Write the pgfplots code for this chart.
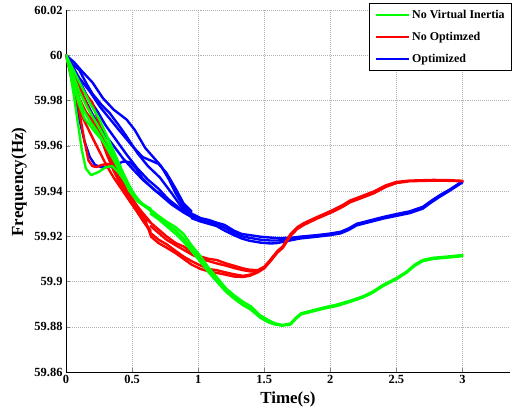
\documentclass[border=0pt]{standalone}
\usepackage{fontspec}
\setmainfont{Liberation Serif}
\usepackage{pgfplots}
\pgfplotsset{compat=1.18}

\begin{document}
\begin{tikzpicture}
\begin{axis}[
name=ax,
scale only axis,
width=444bp,height=362bp,
xmin=0,xmax=3.36,ymin=59.86,ymax=60.02,
axis lines*=left,
axis line style={line width=0.8pt},
tick align=inside,
major tick length=4bp,
xtick={0,0.5,1,1.5,2,2.5,3},
xticklabels={0,0.5,1,1.5,2,2.5,3},
ytick={59.86,59.88,59.9,59.92,59.94,59.96,59.98,60,60.02},
yticklabels={59.86,59.88,59.9,59.92,59.94,59.96,59.98,60,60.02},
/pgf/number format/assume math mode=true,
ticklabel style={font=\bfseries\fontsize{12.5}{13}\selectfont},
grid=major,
major grid style={gray!60,line width=0.5pt,dash pattern=on 1pt off 1pt},
xlabel={Time(s)},ylabel={Frequency(Hz)},
every axis x label/.style={at={(axis description cs:0.5,0)},yshift=-27bp,anchor=center,
  font=\bfseries\fontsize{17}{18}\selectfont},
every axis y label/.style={at={(axis description cs:0,0.5)},xshift=-47bp,yshift=9bp,rotate=90,anchor=center,
  font=\bfseries\fontsize{17}{18}\selectfont},
every axis plot/.append style={line width=2.4pt,line join=round,line cap=round},
legend style={at={(1,1)},anchor=north east,xshift=2bp,yshift=7bp,draw=black,line width=0.6pt,
  fill=white,font=\bfseries\fontsize{12}{12}\selectfont,row sep=8bp,inner sep=5bp,cells={anchor=west}},
legend image code/.code={\draw[#1,line width=2.4pt,line cap=butt] (0bp,0bp) -- (33bp,0bp);},
]
% --- Optimized (blue)
\addplot[blue,forget plot] coordinates {(0,60)(0.05,59.996)(0.1,59.9935)(0.15,59.988)(0.2,59.983)(0.27,59.978)(0.33,59.9745)(0.4,59.969)(0.46,59.964)(0.54,59.9568)(0.62,59.951)(0.71,59.946)(0.8,59.939)(0.89,59.9316)(0.95,59.929)};
\addplot[blue,forget plot] coordinates {(0,60)(0.06,59.997)(0.12,59.993)(0.2,59.988)(0.28,59.981)(0.36,59.976)(0.46,59.9715)(0.52,59.967)(0.6,59.959)(0.66,59.955)(0.72,59.951)(0.78,59.945)(0.83,59.939)(0.89,59.933)(0.95,59.930)};
\addplot[blue,forget plot] coordinates {(0,60)(0.05,59.995)(0.1,59.990)(0.18,59.984)(0.26,59.977)(0.33,59.972)(0.4,59.967)(0.5,59.960)(0.58,59.955)(0.64,59.9535)(0.7,59.952)(0.76,59.948)(0.83,59.941)(0.89,59.9345)(0.95,59.931)};
\addplot[blue,forget plot] coordinates {(0,60)(0.05,59.995)(0.1,59.989)(0.16,59.982)(0.24,59.975)(0.3,59.969)(0.38,59.9625)(0.46,59.956)(0.54,59.950)(0.62,59.945)(0.7,59.941)(0.78,59.936)(0.86,59.9325)(0.95,59.9295)};
\addplot[blue,forget plot] coordinates {(0,60)(0.03,59.994)(0.06,59.984)(0.1,59.972)(0.14,59.962)(0.18,59.955)(0.22,59.9515)(0.27,59.9505)(0.32,59.9505)(0.38,59.9515)(0.43,59.953)(0.48,59.9528)(0.53,59.950)(0.58,59.9455)(0.65,59.9415)(0.72,59.938)(0.8,59.934)(0.89,59.9305)(0.95,59.9285)};
\addplot[blue,forget plot] coordinates {(0,60)(0.04,59.996)(0.08,59.99)(0.13,59.982)(0.2,59.974)(0.28,59.966)(0.36,59.960)(0.43,59.9545)(0.5,59.950)(0.58,59.945)(0.68,59.940)(0.76,59.937)(0.86,59.932)(0.95,59.929)};
\addplot[blue,forget plot] coordinates {(0.95,59.930)(1.02,59.928)(1.08,59.9272)(1.14,59.926)(1.2,59.925)(1.27,59.9225)(1.33,59.921)(1.39,59.9205)(1.47,59.9198)(1.55,59.9194)(1.6,59.9192)(1.7,59.9193)(1.77,59.9198)(1.9,59.9205)(2.0,59.9212)(2.08,59.922)(2.14,59.9235)(2.2,59.9255)(2.3,59.927)(2.4,59.9285)(2.5,59.9298)(2.6,59.931)(2.7,59.933)(2.76,59.9355)(2.83,59.9382)(2.9,59.9405)(3.0,59.9443)};
\addplot[blue,forget plot] coordinates {(0.95,59.929)(1.02,59.9272)(1.08,59.9263)(1.14,59.9252)(1.2,59.9238)(1.27,59.9215)(1.33,59.92)(1.39,59.9193)(1.47,59.9185)(1.55,59.9181)(1.6,59.9181)(1.7,59.9188)(1.77,59.9194)(1.9,59.9202)(2.0,59.9208)(2.08,59.9217)(2.14,59.9232)(2.2,59.9252)(2.3,59.9267)(2.4,59.9282)(2.5,59.9294)(2.6,59.9306)(2.7,59.9326)(2.76,59.9352)(2.83,59.9379)(2.9,59.9403)(3.0,59.9441)};
\addplot[blue,forget plot] coordinates {(0.95,59.928)(1.02,59.9265)(1.08,59.9255)(1.14,59.9245)(1.2,59.9225)(1.27,59.9205)(1.33,59.919)(1.39,59.918)(1.47,59.9172)(1.55,59.9168)(1.6,59.917)(1.7,59.9182)(1.77,59.919)(1.9,59.9198)(2.0,59.9205)(2.08,59.9213)(2.14,59.9228)(2.2,59.9248)(2.3,59.9263)(2.4,59.9278)(2.5,59.929)(2.6,59.9302)(2.7,59.9322)(2.76,59.9348)(2.83,59.9375)(2.9,59.94)(3.0,59.9438)};
% --- No Optimzed (red)
\addplot[red,forget plot] coordinates {(0,60)(0.04,59.992)(0.08,59.982)(0.11,59.972)(0.14,59.962)(0.17,59.9535)(0.2,59.951)(0.23,59.9506)(0.27,59.9515)(0.31,59.952)(0.35,59.951)(0.4,59.946)(0.46,59.940)(0.51,59.9355)(0.57,59.931)(0.64,59.9262)};
\addplot[red,forget plot] coordinates {(0,60)(0.05,59.991)(0.1,59.981)(0.15,59.975)(0.2,59.971)(0.26,59.964)(0.31,59.956)(0.36,59.949)(0.42,59.942)(0.48,59.936)(0.53,59.932)(0.58,59.927)(0.64,59.922)};
\addplot[red,forget plot] coordinates {(0,60)(0.06,59.992)(0.12,59.985)(0.2,59.979)(0.26,59.968)(0.32,59.958)(0.38,59.950)(0.44,59.943)(0.5,59.937)(0.56,59.931)(0.6,59.927)(0.64,59.9205)};
\addplot[red,forget plot] coordinates {(0,60)(0.05,59.993)(0.1,59.986)(0.16,59.978)(0.22,59.970)(0.28,59.962)(0.34,59.954)(0.4,59.946)(0.46,59.939)(0.52,59.933)(0.58,59.929)(0.64,59.926)};
\addplot[red,forget plot] coordinates {(0,60)(0.04,59.99)(0.08,59.980)(0.13,59.972)(0.18,59.966)(0.24,59.959)(0.3,59.952)(0.36,59.946)(0.43,59.940)(0.5,59.934)(0.57,59.928)(0.64,59.9225)};
\addplot[red,forget plot] coordinates {(0.64,59.926)(0.7,59.923)(0.76,59.920)(0.83,59.917)(0.89,59.9155)(0.95,59.913)(1.02,59.911)(1.08,59.910)(1.14,59.9095)(1.21,59.908)(1.27,59.907)(1.34,59.9058)(1.39,59.9052)(1.45,59.905)(1.5,59.9065)(1.545,59.9095)(1.6,59.9135)(1.64,59.9155)(1.7,59.921)(1.75,59.924)(1.8,59.9258)(1.9,59.9285)(2.02,59.9316)(2.1,59.934)(2.15,59.9358)(2.25,59.938)(2.33,59.9398)(2.42,59.9425)(2.5,59.944)(2.6,59.9446)(2.78,59.9449)(2.9,59.9448)(3.0,59.9445)};
\addplot[red,forget plot] coordinates {(0.64,59.9245)(0.7,59.9215)(0.76,59.9185)(0.83,59.916)(0.89,59.914)(0.95,59.912)(1.02,59.910)(1.08,59.909)(1.14,59.908)(1.21,59.907)(1.27,59.906)(1.34,59.905)(1.39,59.9045)(1.45,59.9045)};
\addplot[red,forget plot] coordinates {(0.64,59.9214)(0.7,59.9185)(0.76,59.9165)(0.83,59.9135)(0.89,59.911)(0.95,59.909)(1.02,59.907)(1.08,59.9055)(1.14,59.905)(1.21,59.904)(1.27,59.9032)(1.34,59.9025)(1.39,59.903)(1.45,59.9042)};
\addplot[red,forget plot] coordinates {(0.64,59.920)(0.7,59.917)(0.76,59.915)(0.83,59.9125)(0.89,59.910)(0.95,59.9075)(1.02,59.9055)(1.08,59.9045)(1.14,59.9038)(1.21,59.903)(1.27,59.9022)(1.34,59.902)(1.39,59.9025)(1.45,59.904)(1.5,59.9058)(1.545,59.9088)(1.6,59.9128)(1.64,59.9148)(1.7,59.9202)(1.75,59.9232)(1.8,59.925)(1.9,59.9278)(2.02,59.9308)(2.1,59.9332)(2.15,59.935)(2.25,59.9372)(2.33,59.939)(2.42,59.9418)(2.5,59.9435)(2.6,59.9443)(2.78,59.9446)(2.9,59.9445)(3.0,59.9443)};
% --- No Virtual Inertia (green)
\addplot[green,forget plot] coordinates {(0,60)(0.03,59.993)(0.06,59.982)(0.09,59.970)(0.12,59.958)(0.15,59.950)(0.19,59.947)(0.25,59.9485)(0.30,59.9505)(0.35,59.951)(0.40,59.948)(0.46,59.943)(0.52,59.937)(0.58,59.934)(0.64,59.9318)};
\addplot[green,forget plot] coordinates {(0,60)(0.03,59.994)(0.06,59.986)(0.1,59.978)(0.14,59.972)(0.18,59.969)(0.22,59.966)(0.28,59.962)(0.33,59.957)(0.38,59.952)(0.43,59.946)(0.48,59.940)(0.54,59.9355)(0.6,59.933)(0.64,59.9315)};
\addplot[green,forget plot] coordinates {(0,60)(0.04,59.993)(0.08,59.984)(0.13,59.976)(0.18,59.971)(0.24,59.966)(0.3,59.960)(0.36,59.954)(0.42,59.947)(0.48,59.941)(0.54,59.936)(0.6,59.9335)(0.64,59.932)};
\addplot[green,forget plot] coordinates {(0,60)(0.05,59.992)(0.1,59.984)(0.16,59.977)(0.22,59.971)(0.28,59.965)(0.34,59.958)(0.4,59.951)(0.46,59.944)(0.52,59.938)(0.58,59.934)(0.64,59.9322)};
\addplot[green,forget plot] coordinates {(0,60)(0.06,59.993)(0.12,59.986)(0.18,59.979)(0.25,59.972)(0.32,59.963)(0.38,59.955)(0.44,59.947)(0.5,59.940)(0.56,59.935)(0.64,59.9312)};
\addplot[green,forget plot] coordinates {(0.64,59.9318)(0.70,59.929)(0.76,59.9265)(0.83,59.924)(0.89,59.921)(0.95,59.916)(1.02,59.911)(1.08,59.906)(1.14,59.902)(1.21,59.897)(1.27,59.894)(1.34,59.891)(1.40,59.889)(1.47,59.885)(1.53,59.883)(1.58,59.8815)(1.64,59.8808)(1.70,59.8815)(1.74,59.884)(1.78,59.886)(1.85,59.887)(1.95,59.8885)(2.05,59.8898)(2.15,59.8915)(2.25,59.8935)(2.32,59.8955)(2.40,59.8985)(2.50,59.9015)(2.58,59.9045)(2.64,59.9075)(2.70,59.9095)(2.78,59.9105)(2.88,59.911)(3.00,59.9117)};
\addplot[green,forget plot] coordinates {(0.64,59.931)(0.70,59.9285)(0.76,59.9255)(0.83,59.9225)(0.89,59.919)(0.95,59.9145)(1.02,59.909)(1.08,59.9045)(1.14,59.9005)(1.21,59.896)(1.27,59.893)(1.34,59.8898)(1.40,59.8878)(1.47,59.8842)(1.53,59.8822)(1.58,59.8812)(1.64,59.8805)(1.70,59.881)(1.74,59.8835)(1.78,59.8855)(1.85,59.8865)(1.95,59.888)(2.05,59.8892)(2.15,59.891)(2.25,59.893)(2.32,59.895)(2.40,59.898)(2.50,59.901)(2.58,59.904)(2.64,59.907)(2.70,59.909)(2.78,59.910)(2.88,59.9105)(3.00,59.9112)};
\addplot[green,forget plot] coordinates {(0.64,59.930)(0.70,59.9275)(0.76,59.9245)(0.83,59.921)(0.89,59.9175)(0.95,59.9135)(1.02,59.9085)(1.08,59.904)(1.14,59.900)(1.21,59.8955)(1.27,59.8925)(1.34,59.8895)(1.40,59.8875)(1.47,59.884)(1.53,59.882)(1.58,59.881)(1.64,59.8805)};
% legend
\addlegendimage{green}\addlegendentry{No Virtual Inertia}
\addlegendimage{red}\addlegendentry{No Optimzed}
\addlegendimage{blue}\addlegendentry{Optimized}
\end{axis}
\pgfresetboundingbox
\path ([shift={(-66bp,-44bp)}]ax.south west) rectangle ([shift={(11bp,10bp)}]ax.north east);
\end{tikzpicture}
\end{document}
